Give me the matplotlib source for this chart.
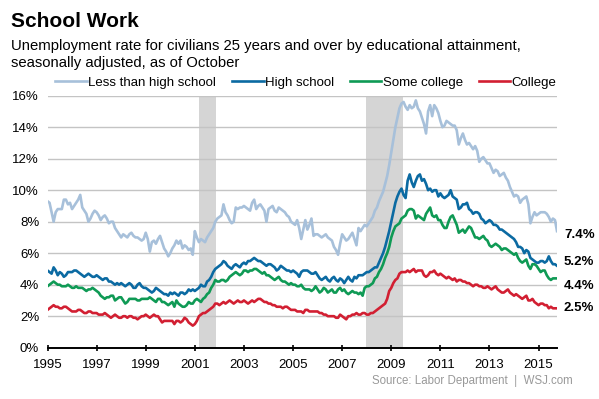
import numpy as np
import matplotlib.pyplot as plt

plt.rcParams['font.family'] = ['Liberation Sans', 'DejaVu Sans']

# monthly unemployment rates, Jan 1995 - Oct 2015
less_hs = [
    9.3, 9.2, 8.6, 8.0, 8.6, 8.8, 8.8, 8.8, 9.4, 9.4, 9.1, 9.2,   # 1995
    8.8, 9.0, 9.2, 9.4, 9.7, 8.9, 8.7, 8.5, 8.0, 8.2, 8.5, 8.7,   # 1996
    8.6, 8.4, 8.1, 8.3, 8.4, 8.2, 7.9, 8.0, 8.0, 7.6, 7.4, 7.2,   # 1997
    7.0, 7.2, 7.1, 7.0, 7.2, 7.3, 7.1, 7.0, 7.0, 6.9, 6.8, 6.9,   # 1998
    7.3, 6.9, 6.1, 6.7, 6.8, 6.6, 6.9, 7.1, 6.7, 6.3, 6.1, 5.8,   # 1999
    6.0, 6.3, 6.5, 6.8, 6.6, 6.8, 6.3, 6.5, 6.4, 6.2, 6.3, 5.9,   # 2000
    7.4, 7.0, 6.7, 6.9, 6.8, 6.7, 7.0, 7.2, 7.4, 7.6, 8.0, 8.2,   # 2001
    8.3, 8.4, 9.1, 8.6, 8.4, 8.1, 7.9, 8.0, 8.9, 8.8, 8.9, 8.9,   # 2002
    9.0, 8.9, 8.8, 8.7, 9.2, 9.4, 8.8, 9.0, 9.1, 8.9, 8.7, 8.0,   # 2003
    8.8, 8.9, 9.0, 8.7, 8.6, 8.9, 8.8, 8.7, 8.6, 8.4, 8.3, 8.0,   # 2004
    7.9, 7.8, 8.1, 7.6, 6.9, 7.5, 8.1, 7.5, 7.8, 8.2, 7.1, 7.2,   # 2005
    7.2, 7.1, 7.0, 7.1, 7.2, 7.0, 6.9, 6.8, 6.4, 6.2, 5.9, 6.6,   # 2006
    7.2, 7.0, 6.8, 6.9, 7.1, 7.3, 6.9, 6.5, 7.6, 7.4, 7.6, 7.8,   # 2007
    7.7, 7.9, 8.1, 8.3, 8.7, 8.9, 9.3, 9.6, 9.9, 10.4, 10.9, 11.6,  # 2008
    12.4, 13.2, 14.0, 14.6, 15.2, 15.5, 15.6, 15.3, 15.1, 15.4, 15.2, 15.3,  # 2009
    15.7, 15.2, 15.0, 14.6, 14.2, 13.6, 15.0, 15.4, 14.7, 15.4, 15.2, 14.9,  # 2010
    14.4, 14.0, 14.1, 14.4, 14.3, 14.2, 14.1, 14.1, 13.8, 12.9, 13.3, 13.6,  # 2011
    13.2, 12.9, 13.0, 12.8, 12.6, 12.8, 12.5, 11.8, 12.0, 12.1, 11.9, 11.7,  # 2012
    11.7, 11.4, 11.1, 11.3, 11.2, 10.9, 11.0, 11.1, 10.8, 10.6, 10.2, 9.9,   # 2013
    9.6, 9.7, 9.6, 9.2, 9.4, 9.5, 9.6, 9.1, 7.9, 8.3, 8.6, 8.4,   # 2014
    8.5, 8.6, 8.6, 8.6, 8.5, 8.3, 8.0, 8.2, 8.1, 7.4,             # 2015
]

high_school = [
    4.9, 4.8, 4.7, 5.1, 4.9, 4.6, 4.8, 4.7, 4.5, 4.6, 4.8, 4.8,   # 1995
    4.8, 4.9, 4.9, 4.8, 4.7, 4.6, 4.5, 4.6, 4.7, 4.6, 4.5, 4.5,   # 1996
    4.6, 4.5, 4.4, 4.3, 4.4, 4.4, 4.2, 4.2, 4.1, 4.0, 4.1, 4.0,   # 1997
    4.1, 4.0, 3.9, 4.0, 4.1, 4.0, 3.8, 3.8, 4.0, 4.1, 3.9, 3.8,   # 1998
    3.8, 3.7, 3.6, 3.5, 3.6, 3.8, 3.7, 3.6, 3.5, 3.4, 3.4, 3.3,   # 1999
    3.5, 3.4, 3.5, 3.4, 3.3, 3.5, 3.5, 3.4, 3.5, 3.7, 3.6, 3.7,   # 2000
    3.6, 3.7, 3.8, 4.0, 3.9, 3.9, 4.2, 4.3, 4.5, 4.8, 5.0, 5.1,   # 2001
    5.2, 5.3, 5.5, 5.4, 5.2, 5.1, 5.0, 5.2, 5.3, 5.2, 5.1, 5.3,   # 2002
    5.4, 5.3, 5.5, 5.5, 5.6, 5.7, 5.6, 5.5, 5.5, 5.4, 5.3, 5.2,   # 2003
    5.3, 5.3, 5.2, 5.1, 4.9, 5.0, 5.2, 5.1, 5.0, 4.9, 4.9, 4.8,   # 2004
    4.9, 4.8, 4.7, 4.5, 4.8, 4.9, 4.9, 4.9, 4.8, 4.7, 4.7, 4.8,   # 2005
    4.6, 4.4, 4.3, 4.4, 4.5, 4.3, 4.2, 4.4, 4.5, 4.3, 4.2, 4.4,   # 2006
    4.3, 4.1, 4.3, 4.5, 4.3, 4.2, 4.5, 4.4, 4.6, 4.6, 4.6, 4.7,   # 2007
    4.8, 4.8, 4.9, 5.0, 5.1, 5.1, 5.4, 5.7, 6.0, 6.4, 6.9, 7.4,   # 2008
    8.0, 8.6, 9.2, 9.6, 9.9, 10.1, 9.7, 9.5, 10.6, 11.0, 10.5, 10.2,  # 2009
    10.6, 10.9, 11.0, 10.6, 10.7, 10.4, 10.0, 10.1, 9.9, 10.0, 10.0, 9.6,  # 2010
    9.8, 9.6, 9.5, 9.6, 9.7, 10.0, 9.6, 9.5, 9.4, 8.8, 8.9, 9.1,  # 2011
    9.1, 9.2, 8.8, 8.7, 8.5, 8.6, 8.6, 8.5, 8.2, 8.1, 7.9, 8.0,   # 2012
    8.1, 8.0, 7.8, 7.8, 7.7, 7.5, 7.5, 7.4, 7.3, 7.2, 7.1, 7.0,   # 2013
    6.9, 6.7, 6.4, 6.4, 6.3, 6.0, 6.2, 6.1, 5.7, 5.6, 5.5, 5.4,   # 2014
    5.4, 5.5, 5.5, 5.4, 5.5, 5.8, 5.5, 5.3, 5.3, 5.2,             # 2015
]

some_college = [
    3.9, 4.0, 4.1, 4.2, 4.1, 4.0, 4.0, 3.9, 3.9, 3.9, 4.0, 3.9,   # 1995
    3.8, 3.8, 3.9, 3.8, 3.8, 3.8, 3.7, 3.6, 3.7, 3.7, 3.8, 3.7,   # 1996
    3.6, 3.5, 3.3, 3.2, 3.1, 3.2, 3.2, 3.3, 3.3, 3.0, 3.1, 3.2,   # 1997
    3.2, 3.0, 2.8, 2.9, 3.1, 3.1, 3.1, 3.1, 3.0, 3.0, 3.1, 3.1,   # 1998
    3.1, 3.1, 3.2, 3.1, 3.0, 2.9, 3.1, 3.1, 2.9, 2.9, 2.8, 2.7,   # 1999
    2.8, 2.9, 2.6, 3.0, 2.8, 2.7, 2.6, 2.6, 2.7, 2.9, 2.8, 2.8,   # 2000
    3.0, 3.1, 3.0, 2.9, 3.1, 3.2, 3.4, 3.5, 3.8, 4.0, 4.3, 4.2,   # 2001
    4.2, 4.3, 4.3, 4.2, 4.3, 4.5, 4.6, 4.7, 4.8, 4.7, 4.6, 4.7,   # 2002
    4.9, 4.9, 4.8, 4.9, 4.9, 5.0, 5.0, 4.9, 4.8, 4.7, 4.8, 4.6,   # 2003
    4.6, 4.5, 4.4, 4.3, 4.4, 4.5, 4.3, 4.2, 4.2, 4.1, 4.0, 4.1,   # 2004
    4.0, 4.0, 3.9, 3.9, 4.0, 3.8, 3.7, 3.7, 3.7, 3.6, 3.7, 3.9,   # 2005
    3.7, 3.5, 3.6, 3.8, 3.7, 3.5, 3.6, 3.7, 3.5, 3.5, 3.7, 3.8,   # 2006
    3.6, 3.7, 3.5, 3.4, 3.5, 3.6, 3.5, 3.5, 3.4, 3.5, 3.3, 3.8,   # 2007
    3.9, 3.9, 4.0, 4.1, 4.4, 4.5, 4.8, 5.0, 5.3, 5.7, 6.0, 6.4,   # 2008
    7.0, 7.4, 7.7, 7.8, 7.9, 8.2, 8.3, 8.4, 8.7, 8.8, 8.8, 8.7,   # 2009
    8.2, 8.4, 8.3, 8.2, 8.1, 8.5, 8.7, 8.9, 8.4, 8.3, 8.4, 8.1,   # 2010
    8.1, 7.8, 7.6, 7.6, 8.0, 8.3, 8.4, 8.1, 7.8, 7.3, 7.4, 7.5,   # 2011
    7.3, 7.5, 7.7, 7.6, 7.3, 7.0, 7.0, 6.9, 7.0, 7.1, 6.9, 6.8,   # 2012
    6.5, 6.4, 6.5, 6.6, 6.5, 6.4, 6.2, 6.3, 6.3, 6.2, 6.1, 6.0,   # 2013
    5.9, 6.0, 5.7, 5.5, 5.4, 5.5, 5.6, 5.2, 5.0, 5.3, 5.3, 5.2,   # 2014
    5.0, 4.8, 4.9, 4.9, 4.6, 4.4, 4.3, 4.4, 4.4, 4.4,             # 2015
]

college = [
    2.4, 2.5, 2.6, 2.7, 2.6, 2.6, 2.5, 2.5, 2.6, 2.6, 2.5, 2.4,   # 1995
    2.3, 2.3, 2.3, 2.4, 2.4, 2.3, 2.2, 2.2, 2.3, 2.3, 2.2, 2.2,   # 1996
    2.2, 2.1, 2.1, 2.1, 2.2, 2.1, 2.0, 1.9, 2.0, 2.1, 2.0, 1.9,   # 1997
    1.9, 2.0, 2.0, 1.9, 2.0, 2.0, 1.9, 1.9, 1.8, 1.9, 2.0, 2.0,   # 1998
    2.1, 2.0, 1.9, 2.0, 2.1, 2.0, 2.0, 1.8, 1.6, 1.7, 1.7, 1.7,   # 1999
    1.7, 1.7, 1.5, 1.7, 1.7, 1.6, 1.7, 1.9, 1.8, 1.6, 1.5, 1.4,   # 2000
    1.5, 1.7, 2.0, 2.1, 2.2, 2.2, 2.3, 2.4, 2.5, 2.6, 2.8, 2.8,   # 2001
    2.7, 2.8, 2.9, 2.8, 2.9, 3.0, 2.9, 2.8, 2.9, 3.0, 2.9, 2.9,   # 2002
    3.0, 2.9, 2.8, 2.9, 3.0, 2.9, 3.0, 3.1, 3.1, 3.0, 2.9, 2.9,   # 2003
    2.8, 2.8, 2.7, 2.7, 2.6, 2.6, 2.6, 2.5, 2.6, 2.6, 2.5, 2.4,   # 2004
    2.4, 2.4, 2.3, 2.3, 2.3, 2.2, 2.4, 2.4, 2.3, 2.3, 2.3, 2.3,   # 2005
    2.3, 2.2, 2.2, 2.1, 2.1, 2.0, 2.0, 2.0, 2.0, 1.9, 1.9, 2.1,   # 2006
    2.0, 1.9, 1.8, 2.0, 2.0, 2.1, 2.1, 2.2, 2.1, 2.1, 2.2, 2.2,   # 2007
    2.1, 2.1, 2.2, 2.2, 2.3, 2.4, 2.5, 2.6, 2.7, 2.8, 3.1, 3.6,   # 2008
    3.8, 4.1, 4.3, 4.4, 4.7, 4.8, 4.8, 4.8, 4.9, 4.8, 4.9, 5.0,   # 2009
    4.8, 4.9, 4.9, 4.9, 4.6, 4.5, 4.6, 4.8, 4.8, 4.9, 4.7, 4.6,   # 2010
    4.7, 4.6, 4.5, 4.4, 4.5, 4.4, 4.3, 4.4, 4.2, 4.3, 4.3, 4.2,   # 2011
    4.2, 4.1, 4.1, 4.0, 3.9, 4.0, 4.0, 3.9, 3.9, 3.8, 3.8, 3.9,   # 2012
    3.8, 3.7, 3.8, 3.9, 3.7, 3.6, 3.5, 3.5, 3.6, 3.7, 3.5, 3.4,   # 2013
    3.3, 3.4, 3.3, 3.2, 3.1, 3.2, 3.3, 3.0, 3.0, 3.1, 2.9, 2.8,   # 2014
    2.7, 2.8, 2.8, 2.7, 2.7, 2.5, 2.6, 2.5, 2.5, 2.5,             # 2015
]

series_names = ["Less than high school", "High school", "Some college", "College"]
series_colors = ["#a7c0da", "#0b6aa2", "#0f9a55", "#d21f32"]
end_labels = ["7.4%", "5.2%", "4.4%", "2.5%"]
label_offsets = [-3, 3, -5.5, 0]   # points, to keep end labels apart

recessions = [(2001 + 2 / 12, 2001 + 10.5 / 12), (2007 + 11.5 / 12, 2009 + 5.5 / 12)]

year_ticks = list(range(1995, 2016, 2))
pct_ticks = list(range(0, 17, 2))

t = 1995 + np.arange(len(college)) / 12.0

fig = plt.figure(figsize=(5.99, 3.99), dpi=100)
ax = fig.add_axes([0.0793, 0.1286, 0.8506, 0.6316])

for start, end in recessions:
    ax.axvspan(start, end, color="#d5d5d5", lw=0, zorder=0)

for y in pct_ticks[1:]:
    ax.axhline(y, color="#c4c4c4", lw=1.0, zorder=1)

data = [less_hs, high_school, some_college, college]
for vals, name, col in zip(data, series_names, series_colors):
    ax.plot(t, vals, color=col, lw=1.9, label=name, zorder=3, solid_joinstyle="round")

for vals, lab, dy in zip(data, end_labels, label_offsets):
    ax.annotate(lab, xy=(t[-1], vals[-1]), xytext=(5, dy), textcoords="offset points",
                ha="left", va="center", fontsize=9.5, fontweight="bold", annotation_clip=False)

ax.set_xlim(1995, t[-1])
ax.set_ylim(0, 16)
ax.set_xticks(year_ticks)
ax.set_xticklabels([str(y) for y in year_ticks], fontsize=9.5)
ax.set_yticks(pct_ticks)
ax.set_yticklabels([f"{p}%" for p in pct_ticks], fontsize=9.5)
ax.tick_params(axis="y", length=0, pad=6)
ax.tick_params(axis="x", length=5, width=1.2, direction="inout", pad=6)

for side in ["top", "right", "left"]:
    ax.spines[side].set_visible(False)
ax.spines["bottom"].set_linewidth(1.4)
ax.spines["bottom"].set_zorder(4)

ax.legend(loc="lower left", bbox_to_anchor=(0.015, 1.028), ncol=4, frameon=False,
          fontsize=9.5, handlelength=2.4, handletextpad=0.1, columnspacing=1.2,
          borderpad=0, borderaxespad=0)

fig.text(0.018, 0.932, "School Work", fontsize=15, fontweight="bold", va="baseline")
fig.text(0.018, 0.875, "Unemployment rate for civilians 25 years and over by educational attainment,",
         fontsize=10.7, va="baseline")
fig.text(0.018, 0.832, "seasonally adjusted, as of October", fontsize=10.7, va="baseline")
fig.text(0.957, 0.038, "Source: Labor Department  |  WSJ.com", fontsize=8.3, color="#999999",
         ha="right", va="baseline")

fig.savefig("out.png", dpi=100)
